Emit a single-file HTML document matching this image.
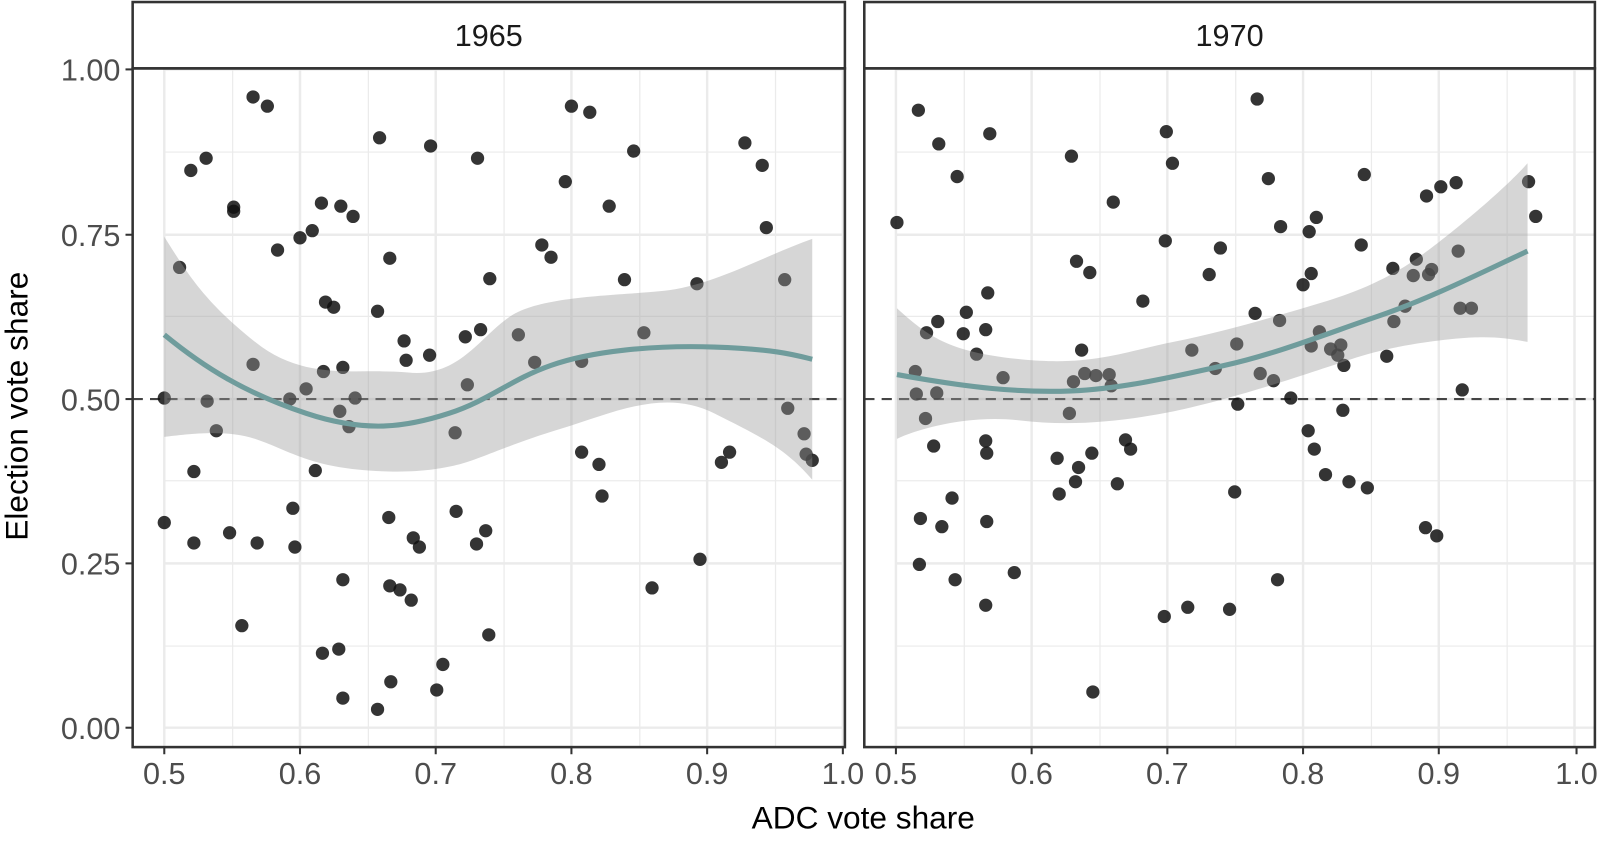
<!DOCTYPE html>
<html><head><style>body{margin:0;background:#fff}svg{display:block}text{font-family:"Liberation Sans",sans-serif}</style></head><body>
<svg width="1600" height="841" viewBox="0 0 1568 824" preserveAspectRatio="none" xmlns="http://www.w3.org/2000/svg">
<defs>
<g id="grid">
<g stroke="#ebebeb" stroke-width="1.2">
<line x1="0" x2="700" y1="149" y2="149"/><line x1="0" x2="700" y1="310" y2="310"/><line x1="0" x2="700" y1="471" y2="471"/><line x1="0" x2="700" y1="633" y2="633"/>
<line x1="67" x2="67" y1="0" y2="740"/><line x1="200" x2="200" y1="0" y2="740"/><line x1="333" x2="333" y1="0" y2="740"/><line x1="466" x2="466" y1="0" y2="740"/><line x1="599" x2="599" y1="0" y2="740"/>
</g>
<g stroke="#ebebeb" stroke-width="2.4">
<line x1="0" x2="700" y1="68" y2="68"/><line x1="0" x2="700" y1="230" y2="230"/><line x1="0" x2="700" y1="391" y2="391"/><line x1="0" x2="700" y1="552" y2="552"/><line x1="0" x2="700" y1="713" y2="713"/>
<line x1="0" x2="0" y1="0" y2="740"/><line x1="133" x2="133" y1="0" y2="740"/><line x1="266" x2="266" y1="0" y2="740"/><line x1="399" x2="399" y1="0" y2="740"/><line x1="532" x2="532" y1="0" y2="740"/><line x1="665" x2="665" y1="0" y2="740"/>
</g></g>
<clipPath id="c1"><rect x="130" y="67" width="698" height="665"/></clipPath>
<clipPath id="c2"><rect x="847" y="67" width="716" height="665"/></clipPath>
</defs>
<g clip-path="url(#c1)"><use href="#grid" transform="translate(161,0)"/></g>
<g clip-path="url(#c2)"><use href="#grid" transform="translate(878,0)"/></g>
<line x1="130" x2="828" y1="391" y2="391" stroke="#444" stroke-width="2" stroke-dasharray="10,7"/>
<line x1="847" x2="1563" y1="391" y2="391" stroke="#444" stroke-width="2" stroke-dasharray="10,7"/>
<g fill="#111" fill-opacity="0.85">
<g>
<circle cx="161" cy="390" r="6.5"/><circle cx="161" cy="512" r="6.5"/><circle cx="176" cy="262" r="6.5"/><circle cx="187" cy="167" r="6.5"/><circle cx="202" cy="155" r="6.5"/><circle cx="190" cy="462" r="6.5"/><circle cx="190" cy="532" r="6.5"/><circle cx="203" cy="393" r="6.5"/><circle cx="212" cy="422" r="6.5"/><circle cx="225" cy="522" r="6.5"/><circle cx="229" cy="203" r="6.5"/><circle cx="229" cy="207" r="6.5"/><circle cx="237" cy="613" r="6.5"/><circle cx="248" cy="95" r="6.5"/><circle cx="248" cy="357" r="6.5"/><circle cx="252" cy="532" r="6.5"/><circle cx="262" cy="104" r="6.5"/><circle cx="272" cy="245" r="6.5"/><circle cx="284" cy="391" r="6.5"/><circle cx="287" cy="498" r="6.5"/><circle cx="289" cy="536" r="6.5"/><circle cx="294" cy="233" r="6.5"/><circle cx="300" cy="381" r="6.5"/><circle cx="306" cy="226" r="6.5"/><circle cx="309" cy="461" r="6.5"/><circle cx="315" cy="199" r="6.5"/><circle cx="316" cy="640" r="6.5"/><circle cx="317" cy="364" r="6.5"/><circle cx="319" cy="296" r="6.5"/><circle cx="327" cy="301" r="6.5"/><circle cx="332" cy="636" r="6.5"/><circle cx="334" cy="202" r="6.5"/><circle cx="336" cy="568" r="6.5"/><circle cx="336" cy="360" r="6.5"/><circle cx="336" cy="684" r="6.5"/><circle cx="333" cy="403" r="6.5"/><circle cx="342" cy="418" r="6.5"/><circle cx="346" cy="212" r="6.5"/><circle cx="348" cy="390" r="6.5"/><circle cx="370" cy="305" r="6.5"/><circle cx="372" cy="135" r="6.5"/><circle cx="370" cy="695" r="6.5"/><circle cx="381" cy="507" r="6.5"/><circle cx="382" cy="253" r="6.5"/><circle cx="382" cy="574" r="6.5"/><circle cx="383" cy="668" r="6.5"/><circle cx="392" cy="578" r="6.5"/><circle cx="396" cy="334" r="6.5"/><circle cx="398" cy="353" r="6.5"/><circle cx="403" cy="588" r="6.5"/><circle cx="405" cy="527" r="6.5"/><circle cx="411" cy="536" r="6.5"/><circle cx="421" cy="348" r="6.5"/><circle cx="422" cy="143" r="6.5"/><circle cx="428" cy="676" r="6.5"/><circle cx="434" cy="651" r="6.5"/><circle cx="446" cy="424" r="6.5"/><circle cx="447" cy="501" r="6.5"/><circle cx="456" cy="330" r="6.5"/><circle cx="458" cy="377" r="6.5"/><circle cx="467" cy="533" r="6.5"/><circle cx="468" cy="155" r="6.5"/><circle cx="471" cy="323" r="6.5"/><circle cx="476" cy="520" r="6.5"/><circle cx="480" cy="273" r="6.5"/><circle cx="479" cy="622" r="6.5"/><circle cx="508" cy="328" r="6.5"/><circle cx="524" cy="355" r="6.5"/><circle cx="531" cy="240" r="6.5"/><circle cx="540" cy="252" r="6.5"/><circle cx="554" cy="178" r="6.5"/><circle cx="560" cy="104" r="6.5"/><circle cx="570" cy="354" r="6.5"/><circle cx="570" cy="443" r="6.5"/><circle cx="578" cy="110" r="6.5"/><circle cx="587" cy="455" r="6.5"/><circle cx="590" cy="486" r="6.5"/><circle cx="597" cy="202" r="6.5"/><circle cx="612" cy="274" r="6.5"/><circle cx="621" cy="148" r="6.5"/><circle cx="631" cy="326" r="6.5"/><circle cx="639" cy="576" r="6.5"/><circle cx="683" cy="278" r="6.5"/><circle cx="686" cy="548" r="6.5"/><circle cx="707" cy="453" r="6.5"/><circle cx="715" cy="443" r="6.5"/><circle cx="730" cy="140" r="6.5"/><circle cx="747" cy="162" r="6.5"/><circle cx="751" cy="223" r="6.5"/><circle cx="769" cy="274" r="6.5"/><circle cx="772" cy="400" r="6.5"/><circle cx="788" cy="425" r="6.5"/><circle cx="790" cy="445" r="6.5"/><circle cx="796" cy="451" r="6.5"/>
</g>
<g>
<circle cx="879" cy="218" r="6.5"/><circle cx="897" cy="364" r="6.5"/><circle cx="900" cy="108" r="6.5"/><circle cx="898" cy="386" r="6.5"/><circle cx="901" cy="553" r="6.5"/><circle cx="902" cy="508" r="6.5"/><circle cx="907" cy="410" r="6.5"/><circle cx="908" cy="326" r="6.5"/><circle cx="915" cy="437" r="6.5"/><circle cx="920" cy="141" r="6.5"/><circle cx="919" cy="315" r="6.5"/><circle cx="918" cy="385" r="6.5"/><circle cx="923" cy="516" r="6.5"/><circle cx="933" cy="488" r="6.5"/><circle cx="936" cy="568" r="6.5"/><circle cx="938" cy="173" r="6.5"/><circle cx="944" cy="327" r="6.5"/><circle cx="947" cy="306" r="6.5"/><circle cx="957" cy="347" r="6.5"/><circle cx="966" cy="323" r="6.5"/><circle cx="966" cy="432" r="6.5"/><circle cx="967" cy="444" r="6.5"/><circle cx="967" cy="511" r="6.5"/><circle cx="966" cy="593" r="6.5"/><circle cx="970" cy="131" r="6.5"/><circle cx="968" cy="287" r="6.5"/><circle cx="983" cy="370" r="6.5"/><circle cx="994" cy="561" r="6.5"/><circle cx="1036" cy="449" r="6.5"/><circle cx="1038" cy="484" r="6.5"/><circle cx="1048" cy="405" r="6.5"/><circle cx="1050" cy="153" r="6.5"/><circle cx="1052" cy="374" r="6.5"/><circle cx="1054" cy="472" r="6.5"/><circle cx="1055" cy="256" r="6.5"/><circle cx="1057" cy="458" r="6.5"/><circle cx="1060" cy="343" r="6.5"/><circle cx="1063" cy="366" r="6.5"/><circle cx="1068" cy="267" r="6.5"/><circle cx="1070" cy="444" r="6.5"/><circle cx="1071" cy="678" r="6.5"/><circle cx="1074" cy="368" r="6.5"/><circle cx="1087" cy="367" r="6.5"/><circle cx="1089" cy="378" r="6.5"/><circle cx="1091" cy="198" r="6.5"/><circle cx="1095" cy="474" r="6.5"/><circle cx="1103" cy="431" r="6.5"/><circle cx="1108" cy="440" r="6.5"/><circle cx="1120" cy="295" r="6.5"/><circle cx="1141" cy="604" r="6.5"/><circle cx="1142" cy="236" r="6.5"/><circle cx="1143" cy="129" r="6.5"/><circle cx="1149" cy="160" r="6.5"/><circle cx="1164" cy="595" r="6.5"/><circle cx="1168" cy="343" r="6.5"/><circle cx="1185" cy="269" r="6.5"/><circle cx="1191" cy="361" r="6.5"/><circle cx="1196" cy="243" r="6.5"/><circle cx="1205" cy="597" r="6.5"/><circle cx="1212" cy="337" r="6.5"/><circle cx="1213" cy="396" r="6.5"/><circle cx="1210" cy="482" r="6.5"/><circle cx="1230" cy="307" r="6.5"/><circle cx="1232" cy="97" r="6.5"/><circle cx="1235" cy="366" r="6.5"/><circle cx="1243" cy="175" r="6.5"/><circle cx="1248" cy="373" r="6.5"/><circle cx="1252" cy="568" r="6.5"/><circle cx="1254" cy="314" r="6.5"/><circle cx="1255" cy="222" r="6.5"/><circle cx="1265" cy="390" r="6.5"/><circle cx="1277" cy="279" r="6.5"/><circle cx="1282" cy="422" r="6.5"/><circle cx="1283" cy="227" r="6.5"/><circle cx="1285" cy="339" r="6.5"/><circle cx="1285" cy="268" r="6.5"/><circle cx="1288" cy="440" r="6.5"/><circle cx="1290" cy="213" r="6.5"/><circle cx="1293" cy="325" r="6.5"/><circle cx="1299" cy="465" r="6.5"/><circle cx="1304" cy="342" r="6.5"/><circle cx="1311" cy="348" r="6.5"/><circle cx="1314" cy="338" r="6.5"/><circle cx="1316" cy="402" r="6.5"/><circle cx="1317" cy="358" r="6.5"/><circle cx="1322" cy="472" r="6.5"/><circle cx="1334" cy="240" r="6.5"/><circle cx="1337" cy="171" r="6.5"/><circle cx="1340" cy="478" r="6.5"/><circle cx="1359" cy="349" r="6.5"/><circle cx="1365" cy="263" r="6.5"/><circle cx="1366" cy="315" r="6.5"/><circle cx="1377" cy="300" r="6.5"/><circle cx="1385" cy="270" r="6.5"/><circle cx="1388" cy="254" r="6.5"/><circle cx="1397" cy="517" r="6.5"/><circle cx="1400" cy="269" r="6.5"/><circle cx="1398" cy="192" r="6.5"/><circle cx="1403" cy="264" r="6.5"/><circle cx="1412" cy="183" r="6.5"/><circle cx="1408" cy="525" r="6.5"/><circle cx="1427" cy="179" r="6.5"/><circle cx="1429" cy="246" r="6.5"/><circle cx="1431" cy="302" r="6.5"/><circle cx="1433" cy="382" r="6.5"/><circle cx="1442" cy="302" r="6.5"/><circle cx="1498" cy="178" r="6.5"/><circle cx="1505" cy="212" r="6.5"/>
</g></g>
<path fill="#999" fill-opacity="0.4" d="M161,232 C185,270 200,295 250,335 S350,360 400,365 S470,330 500,310 S600,290 650,285 S750,250 796,234 L796,470 C770,440 750,430 700,405 S600,405 550,420 S470,450 450,455 S400,465 350,460 S280,440 250,430 S180,426 161,428 Z"/>
<path fill="none" stroke="#6f9c9c" stroke-width="5" d="M161,328 C200,360 240,385 300,405 S400,418 440,405 S500,372 540,358 S640,338 700,340 S780,348 796,352"/>
<path fill="#999" fill-opacity="0.4" d="M879,302 C910,330 930,345 1000,352 S1100,345 1150,335 S1250,310 1300,295 S1380,260 1400,245 S1470,190 1497,160 L1497,335 C1470,330 1450,328 1400,335 S1330,350 1300,360 S1200,393 1150,403 S1050,418 1000,412 S900,420 879,430 Z"/>
<path fill="none" stroke="#6f9c9c" stroke-width="5" d="M879,367 C950,380 1000,385 1050,383 S1150,369 1200,358 S1300,327 1350,310 S1450,268 1497,246"/>
<g fill="none" stroke="#333" stroke-width="2.5">
<rect x="130" y="2" width="698" height="65" fill="#fff"/><rect x="130" y="67" width="698" height="665"/>
<rect x="847" y="2" width="716" height="65" fill="#fff"/><rect x="847" y="67" width="716" height="665"/>
</g>
<g font-size="30" fill="#1a1a1a" text-anchor="middle"><text x="479" y="45">1965</text><text x="1205" y="45">1970</text></g>
<g stroke="#333" stroke-width="2">
<line x1="123" x2="130" y1="68" y2="68"/><line x1="123" x2="130" y1="230" y2="230"/><line x1="123" x2="130" y1="391" y2="391"/><line x1="123" x2="130" y1="552" y2="552"/><line x1="123" x2="130" y1="713" y2="713"/>
<line x1="161" x2="161" y1="732" y2="739"/><line x1="294" x2="294" y1="732" y2="739"/><line x1="427" x2="427" y1="732" y2="739"/><line x1="560" x2="560" y1="732" y2="739"/><line x1="693" x2="693" y1="732" y2="739"/><line x1="826" x2="826" y1="732" y2="739"/>
<line x1="878" x2="878" y1="732" y2="739"/><line x1="1011" x2="1011" y1="732" y2="739"/><line x1="1144" x2="1144" y1="732" y2="739"/><line x1="1277" x2="1277" y1="732" y2="739"/><line x1="1410" x2="1410" y1="732" y2="739"/><line x1="1545" x2="1545" y1="732" y2="739"/>
</g>
<g font-size="30" fill="#4d4d4d" text-anchor="end"><text x="118" y="79">1.00</text><text x="118" y="241">0.75</text><text x="118" y="402">0.50</text><text x="118" y="563">0.25</text><text x="118" y="724">0.00</text></g>
<g font-size="30" fill="#4d4d4d" text-anchor="middle"><text x="161" y="768">0.5</text><text x="294" y="768">0.6</text><text x="427" y="768">0.7</text><text x="560" y="768">0.8</text><text x="693" y="768">0.9</text><text x="826" y="768">1.0</text>
<text x="878" y="768">0.5</text><text x="1011" y="768">0.6</text><text x="1144" y="768">0.7</text><text x="1277" y="768">0.8</text><text x="1410" y="768">0.9</text><text x="1545" y="768">1.0</text></g>
<text x="846" y="812" font-size="31" text-anchor="middle" fill="#000">ADC vote share</text>
<text transform="translate(27,398) rotate(-90)" font-size="31" text-anchor="middle" fill="#000">Election vote share</text>
</svg>
</body></html>
